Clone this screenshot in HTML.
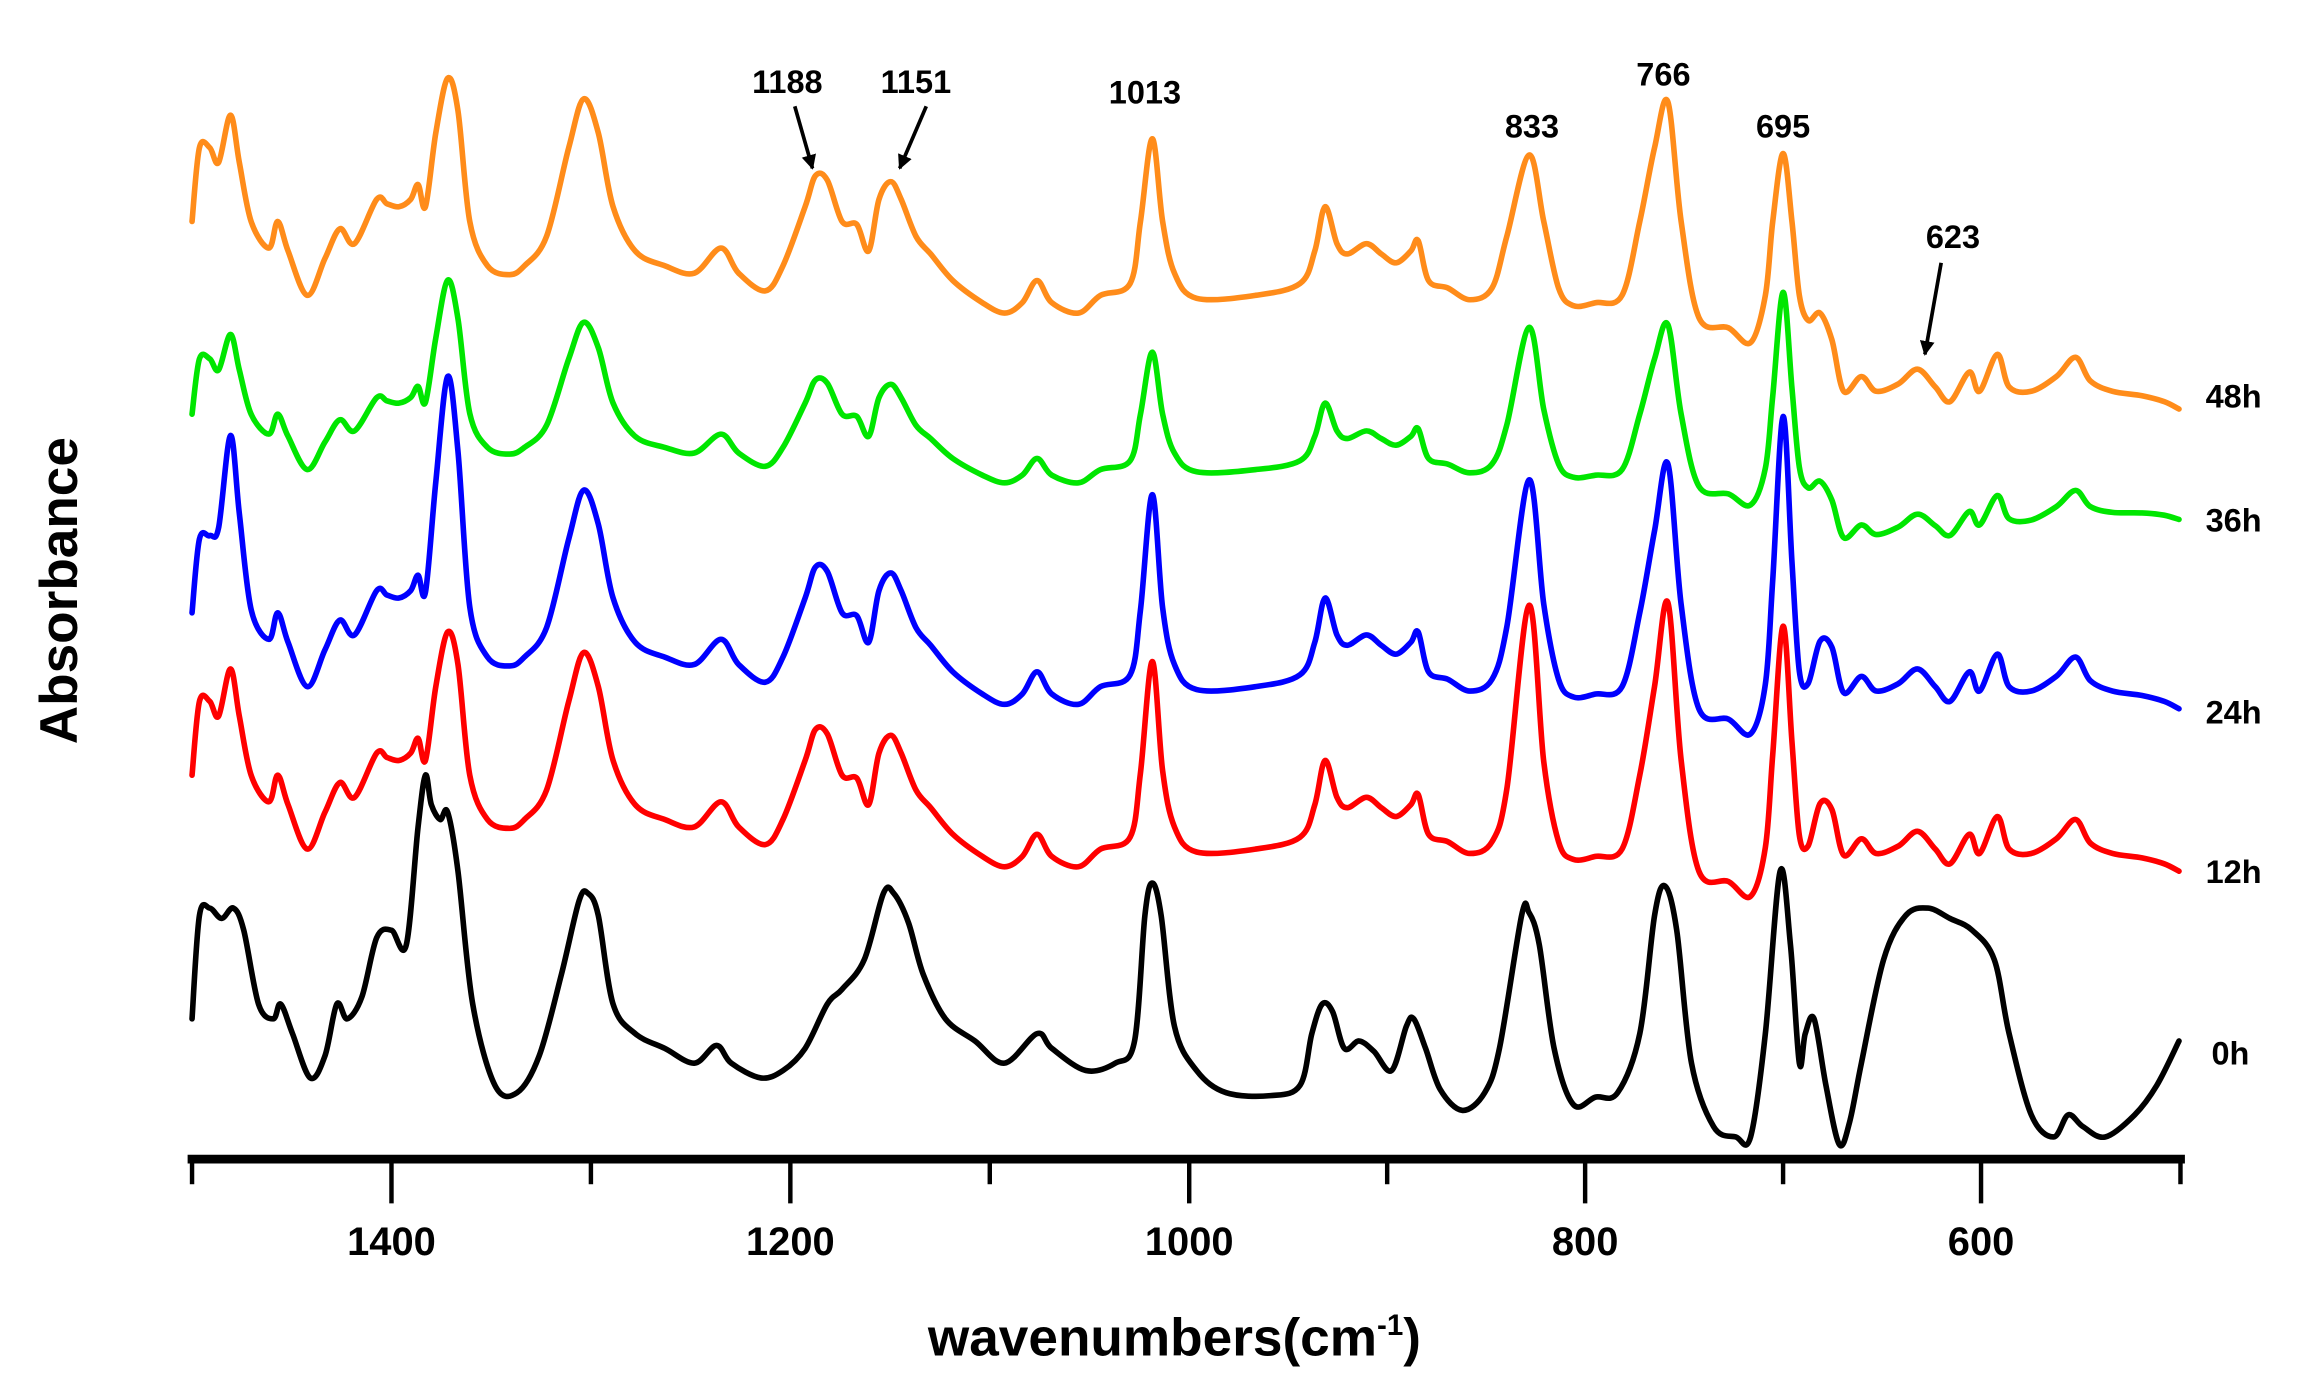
<!DOCTYPE html>
<html><head><meta charset="utf-8"><style>
html,body{margin:0;padding:0;background:#fff;}
svg{display:block;}
text{font-family:"Liberation Sans",Arial,sans-serif;font-weight:bold;fill:#000;}
</style></head><body>
<svg id="s" width="2309" height="1388" viewBox="0 0 1563 940" preserveAspectRatio="none" xmlns="http://www.w3.org/2000/svg">
<defs><marker id="ah" viewBox="0 0 10 10" refX="9" refY="5" markerWidth="4" markerHeight="6" orient="auto" markerUnits="strokeWidth"><path d="M0,0 L10,5 L0,10 z" fill="#000"/></marker></defs>
<g id="curves" fill="none" stroke-width="3.8" stroke-linejoin="round" stroke-linecap="round"></g>
<line x1="127" y1="785" x2="1479" y2="785" stroke="#000" stroke-width="6"/>
<g stroke="#000" stroke-width="3">
<line x1="265" y1="785" x2="265" y2="815"/><line x1="535" y1="785" x2="535" y2="815"/><line x1="805" y1="785" x2="805" y2="815"/><line x1="1073" y1="785" x2="1073" y2="815"/><line x1="1341" y1="785" x2="1341" y2="815"/>
<line x1="130" y1="785" x2="130" y2="802"/><line x1="400" y1="785" x2="400" y2="802"/><line x1="670" y1="785" x2="670" y2="802"/><line x1="939" y1="785" x2="939" y2="802"/><line x1="1207" y1="785" x2="1207" y2="802"/><line x1="1476" y1="785" x2="1476" y2="802"/>
</g>
<g font-size="27" text-anchor="middle">
<text x="265" y="850">1400</text><text x="535" y="850">1200</text><text x="805" y="850">1000</text><text x="1073" y="850">800</text><text x="1341" y="850">600</text>
</g>
<text x="795" y="918" font-size="36" text-anchor="middle">wavenumbers(cm<tspan font-size="20" dy="-14">-1</tspan><tspan dy="14">)</tspan></text>
<text transform="translate(52,400) rotate(-90)" font-size="36" text-anchor="middle">Absorbance</text>
<g font-size="22">
<text x="1493" y="276">48h</text><text x="1493" y="360">36h</text><text x="1493" y="490">24h</text><text x="1493" y="598">12h</text><text x="1497" y="721">0h</text>
</g>
<g font-size="22" text-anchor="middle">
<text x="533" y="63">1188</text><text x="620" y="63">1151</text><text x="775" y="70">1013</text><text x="1037" y="93">833</text><text x="1126" y="58">766</text><text x="1207" y="93">695</text><text x="1322" y="168">623</text>
</g>
<g stroke="#000" stroke-width="2.5" marker-end="url(#ah)">
<line x1="538" y1="72" x2="550" y2="114"/><line x1="627" y1="72" x2="609" y2="114"/><line x1="1314" y1="178" x2="1303" y2="240"/>
</g>
</svg>
<script>
var O=[[130,150],[135,100],[142,100],[148,110],[156,78],[162,110],[170,150],[182,168],[188,150],[195,170],[208,200],[220,175],[230,155],[240,165],[255,135],[262,138],[270,140],[278,135],[283,125],[288,140],[295,90],[303,53],[310,75],[318,150],[330,180],[345,186],[355,180],[370,160],[385,100],[395,67],[405,90],[415,140],[430,170],[450,180],[470,185],[488,168],[500,185],[518,197],[530,180],[545,140],[552,119],[560,122],[570,150],[580,152],[588,170],[595,135],[603,123],[610,135],[620,160],[630,172],[645,190],[665,205],[680,212],[692,205],[702,190],[712,205],[730,212],[745,200],[765,192],[772,150],[780,94],[787,150],[795,185],[810,202],[850,200],[880,192],[890,170],[897,140],[905,165],[912,172],[925,165],[935,172],[945,178],[955,170],[960,163],[967,190],[980,195],[995,203],[1010,195],[1020,160],[1035,105],[1045,150],[1055,195],[1065,207],[1080,205],[1098,200],[1110,150],[1120,100],[1129,69],[1138,150],[1150,215],[1170,222],[1185,232],[1195,200],[1200,150],[1207,104],[1213,150],[1218,200],[1224,217],[1232,212],[1240,230],[1248,265],[1260,255],[1270,265],[1285,260],[1298,250],[1310,262],[1320,272],[1333,252],[1340,265],[1352,240],[1360,262],[1375,265],[1392,255],[1405,242],[1415,258],[1430,265],[1450,268],[1465,272],[1475,277]];
function g(x,c,a,w){return a*Math.exp(-Math.pow((x-c)/w,2));}
function st(x,a){return a/(1+Math.exp(-(x-1228)/5));}
function smooth(P){var d="M"+P[0][0]+","+P[0][1];for(var i=0;i<P.length-1;i++){var p0=P[i-1]||P[i],p1=P[i],p2=P[i+1],p3=P[i+2]||p2;
var c1x=p1[0]+(p2[0]-p0[0])/6,c1y=p1[1]+(p2[1]-p0[1])/6,c2x=p2[0]-(p3[0]-p1[0])/6,c2y=p2[1]-(p3[1]-p1[1])/6;
d+=" C"+c1x.toFixed(1)+","+c1y.toFixed(1)+" "+c2x.toFixed(1)+","+c2y.toFixed(1)+" "+p2[0]+","+p2[1].toFixed(1);}return d;}
var S=[
 {c:"#ff8c1a",k:1,off:200,adj:function(x){return 0;}},
 {c:"#00e600",k:0.75,off:318,adj:function(x){return g(x,1207,-48,6)+g(x,1035,-25,7)+g(x,303,-18,8)+(x>1220?-24*(x-1220)/255:0);}},
 {c:"#0000ff",k:1,off:465,adj:function(x){return g(x,780,-24,5)+g(x,1207,-86,6)+g(x,1035,-45,7)+g(x,1129,-20,8)+g(x,303,-63,9)+g(x,156,-48,8)+st(x,-62);}},
 {c:"#ff0000",k:1,off:575,adj:function(x){return g(x,780,-21,5)+g(x,1035,-70,7)+g(x,1129,-36,8)+g(x,1207,-54,6)+st(x,-62);}}
];
var G=document.getElementById("curves"),NS="http://www.w3.org/2000/svg";
S.forEach(function(s){var P=O.map(function(q){var x=q[0];return [x,s.off+s.k*(q[1]-200)+s.adj(x)];});
var e=document.createElementNS(NS,"path");e.setAttribute("d",smooth(P));e.setAttribute("stroke",s.c);G.appendChild(e);});
var B=[[130,690],[135,620],[142,615],[150,622],[158,615],[165,630],[175,680],[185,690],[190,680],[198,700],[210,730],[220,715],[228,680],[235,690],[245,675],[255,635],[265,630],[275,640],[283,560],[288,525],[292,545],[298,555],[303,550],[310,590],[320,680],[335,735],[350,740],[365,715],[380,660],[392,610],[398,605],[405,620],[415,680],[430,700],[450,710],[470,720],[485,708],[495,720],[515,730],[530,725],[545,710],[560,680],[570,670],[585,650],[598,605],[605,605],[615,625],[625,660],[640,690],[660,705],[680,720],[702,700],[712,710],[735,725],[755,720],[768,705],[775,620],[780,598],[786,620],[795,695],[810,725],[830,740],[860,742],[880,735],[888,700],[895,680],[902,685],[910,710],[920,705],[930,712],[942,725],[952,695],[957,690],[965,710],[975,738],[990,752],[1005,740],[1015,710],[1030,620],[1035,618],[1042,640],[1052,710],[1065,748],[1080,743],[1095,740],[1110,700],[1120,620],[1127,600],[1135,630],[1145,720],[1160,763],[1175,770],[1185,770],[1195,700],[1205,590],[1212,640],[1218,720],[1222,700],[1228,690],[1236,735],[1245,775],[1252,760],[1260,720],[1275,650],[1290,620],[1305,615],[1320,622],[1335,630],[1350,650],[1360,700],[1375,755],[1390,770],[1400,755],[1410,763],[1425,770],[1445,755],[1460,735],[1475,705]];
var b=document.createElementNS(NS,"path");b.setAttribute("d",smooth(B));b.setAttribute("stroke","#000");G.appendChild(b);
</script>
</body></html>
